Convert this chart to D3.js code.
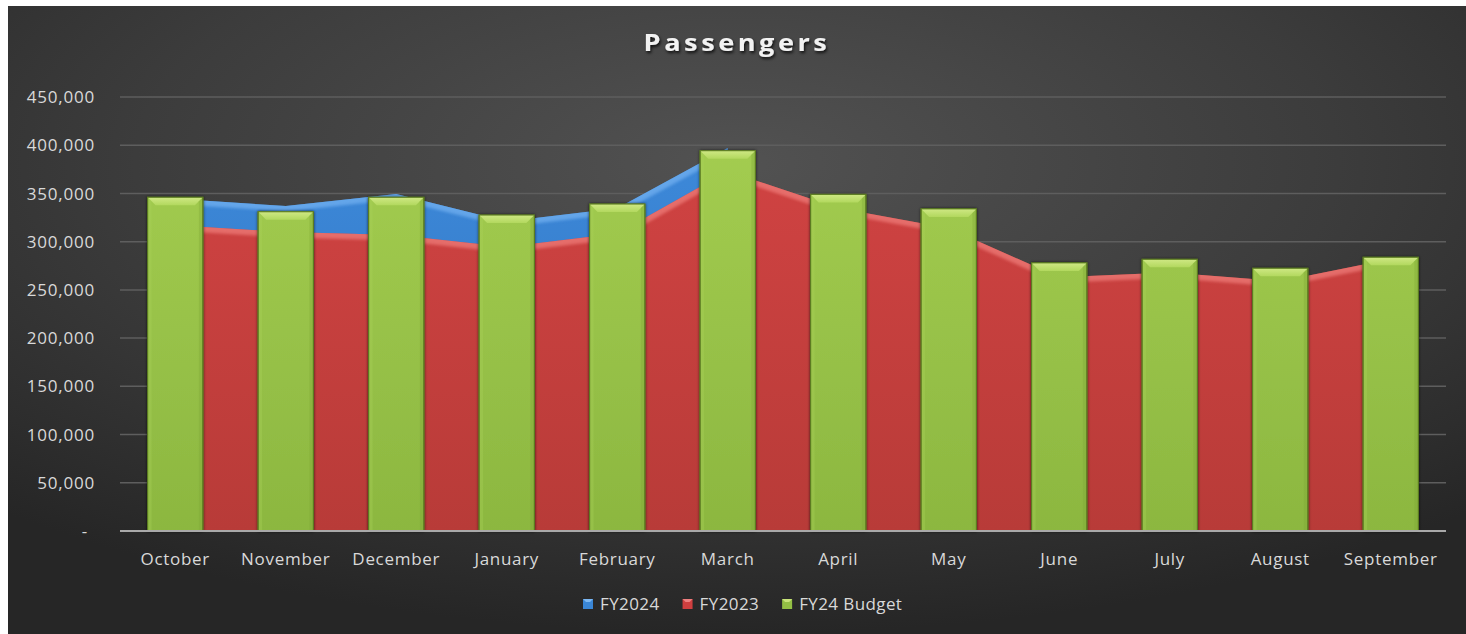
<!DOCTYPE html>
<html>
<head>
<meta charset="utf-8">
<script src="https://cdn.jsdelivr.net/npm/d3@7/dist/d3.min.js"></script>
<style>
  html, body { margin: 0; padding: 0; background: #ffffff; }
  svg { display: block; }
  text { font-family: "Open Sans", "DejaVu Sans", sans-serif; }
</style>
</head>
<body>
<svg id="chart" width="1466" height="634"></svg>
<script>
// Monthly passenger counts, fiscal year October–September
const months = ["October", "November", "December", "January", "February", "March",
                "April", "May", "June", "July", "August", "September"];
const fy2024 = [344500, 337000, 349500, 321000, 334600, 397000];
const fy2023 = [317000, 310000, 307000, 294500, 308500, 373000,
                335000, 314000, 263000, 268000, 259000, 282000];
const budget = [346000, 331000, 346000, 327600, 339000, 394300,
                349000, 334000, 278000, 281700, 272400, 283800];
const yTicks = [0, 50000, 100000, 150000, 200000, 250000, 300000, 350000, 400000, 450000];
const yTickLabels = ["-", "50,000", "100,000", "150,000", "200,000", "250,000",
                     "300,000", "350,000", "400,000", "450,000"];
const seriesNames = ["FY2024", "FY2023", "FY24 Budget"];
const chartTitle = "Passengers";

const W = 1466, H = 634;
const panel = { x: 8, y: 6, w: W - 8, h: H - 6 };
const plot = { left: 120, right: 1446, top: 97, bottom: 531 };

const svg = d3.select("#chart");
const defs = svg.append("defs");

// Background: dark radial gradient, lighter near the top centre
const bg = defs.append("radialGradient").attr("id", "bgGrad")
  .attr("cx", "50%").attr("cy", "25%").attr("r", "75%");
bg.append("stop").attr("offset", "0%").attr("stop-color", "#525252");
bg.append("stop").attr("offset", "55%").attr("stop-color", "#3c3c3c");
bg.append("stop").attr("offset", "100%").attr("stop-color", "#262626");

function vGrad(id, top, bottom) {
  const g = defs.append("linearGradient").attr("id", id)
    .attr("gradientUnits", "userSpaceOnUse")
    .attr("x1", 0).attr("x2", 0).attr("y1", plot.top).attr("y2", plot.bottom);
  g.append("stop").attr("offset", "0%").attr("stop-color", top);
  g.append("stop").attr("offset", "100%").attr("stop-color", bottom);
}
vGrad("greenGrad", "#a6cf52", "#8cb740");
vGrad("redGrad", "#d44444", "#b83b38");
vGrad("blueGrad", "#3f8ddf", "#2f6fb8");

// Bevel highlight on the column tops: fades from light to the body colour
const bevelGrad = defs.append("linearGradient").attr("id", "bevelGrad")
  .attr("x1", 0).attr("x2", 0).attr("y1", 0).attr("y2", 1);
bevelGrad.append("stop").attr("offset", "0%").attr("stop-color", "#cfe884");
bevelGrad.append("stop").attr("offset", "100%").attr("stop-color", "#b2d85e");

const soft = defs.append("filter").attr("id", "soft")
  .attr("x", "-20%").attr("y", "-20%").attr("width", "140%").attr("height", "140%");
soft.append("feGaussianBlur").attr("stdDeviation", 1.6);

const barShadow = defs.append("filter").attr("id", "barShadow")
  .attr("x", "-20%").attr("y", "-5%").attr("width", "140%").attr("height", "110%");
barShadow.append("feDropShadow").attr("dx", 0).attr("dy", 0)
  .attr("stdDeviation", 1.6).attr("flood-color", "#000").attr("flood-opacity", 0.7);

const titleShadow = defs.append("filter").attr("id", "titleShadow")
  .attr("x", "-10%").attr("y", "-30%").attr("width", "120%").attr("height", "160%");
titleShadow.append("feDropShadow").attr("dx", 1).attr("dy", 2)
  .attr("stdDeviation", 1.5).attr("flood-color", "#000").attr("flood-opacity", 0.8);

svg.append("rect")
  .attr("x", panel.x).attr("y", panel.y).attr("width", panel.w).attr("height", panel.h)
  .attr("fill", "url(#bgGrad)");

// Scales
const x = d3.scaleBand().domain(months).range([plot.left, plot.right])
  .paddingInner(0.5).paddingOuter(0.25);
const y = d3.scaleLinear().domain([0, 450000]).range([plot.bottom, plot.top]);
const cx = m => x(m) + x.bandwidth() / 2;

// Gridlines
svg.append("g").selectAll("line").data(yTicks.filter(d => d > 0)).join("line")
  .attr("x1", plot.left).attr("x2", plot.right)
  .attr("y1", d => y(d)).attr("y2", d => y(d))
  .attr("stroke", "#5e5e5e").attr("stroke-width", 1.5);

// Areas with a soft highlight along the top edge
function drawArea(values, fill, highlight, id) {
  const pts = values.map((v, i) => [cx(months[i]), y(v)]);
  const area = d3.area().x(d => d[0]).y0(y(0)).y1(d => d[1]);
  const line = d3.line().x(d => d[0]).y(d => d[1]);
  defs.append("clipPath").attr("id", id).append("path").attr("d", area(pts));
  const g = svg.append("g");
  g.append("path").attr("d", area(pts)).attr("fill", fill);
  g.append("path").attr("d", line(pts)).attr("clip-path", `url(#${id})`)
    .attr("fill", "none").attr("stroke", highlight).attr("stroke-width", 11)
    .attr("stroke-linejoin", "round")
    .attr("filter", "url(#soft)").attr("opacity", 0.75);
}
drawArea(fy2024, "url(#blueGrad)", "#72b0f0", "clipBlue");
drawArea(fy2023, "url(#redGrad)", "#ee7b78", "clipRed");

// Budget columns with bevelled top
const bw = x.bandwidth();
const bev = 8;
const bars = svg.append("g").selectAll("g").data(budget).join("g");
bars.append("rect")
  .attr("x", (d, i) => x(months[i])).attr("y", d => y(d))
  .attr("width", bw).attr("height", d => y(0) - y(d))
  .attr("fill", "url(#greenGrad)").attr("stroke", "#5d7d22").attr("stroke-width", 1)
  .attr("filter", "url(#barShadow)");
bars.append("path")
  .attr("d", (d, i) => {
    const x0 = x(months[i]), y0 = y(d);
    return `M${x0},${y0}L${x0 + bw},${y0}L${x0 + bw - bev},${y0 + bev}L${x0 + bev},${y0 + bev}Z`;
  })
  .attr("fill", "url(#bevelGrad)");
bars.append("path")
  .attr("d", (d, i) => {
    const x0 = x(months[i]), y0 = y(d);
    return `M${x0},${y0}L${x0 + 4},${y0 + 4}L${x0 + 4},${y(0)}L${x0},${y(0)}Z`;
  })
  .attr("fill", "#a8d15a").attr("opacity", 0.35);
bars.append("path")
  .attr("d", (d, i) => {
    const x1 = x(months[i]) + bw, y0 = y(d);
    return `M${x1},${y0}L${x1 - 4},${y0 + 4}L${x1 - 4},${y(0)}L${x1},${y(0)}Z`;
  })
  .attr("fill", "#7fa736").attr("opacity", 0.35);
bars.append("rect")
  .attr("x", (d, i) => x(months[i])).attr("y", d => y(d))
  .attr("width", bw).attr("height", d => y(0) - y(d))
  .attr("fill", "none").attr("stroke", "#5a7a20").attr("stroke-width", 1);

// Category axis line
svg.append("line")
  .attr("x1", plot.left).attr("x2", plot.right)
  .attr("y1", y(0)).attr("y2", y(0))
  .attr("stroke", "#a9a9a9").attr("stroke-width", 2);

// Value axis labels
svg.append("g").selectAll("text").data(yTicks).join("text")
  .attr("x", (d, i) => i === 0 ? 88 : 95)
  .attr("y", d => y(d)).attr("dy", "0.36em")
  .attr("text-anchor", "end").attr("font-size", 17).attr("letter-spacing", 0.8)
  .attr("fill", "#d9d9d9")
  .text((d, i) => yTickLabels[i]);

// Category labels
svg.append("g").selectAll("text").data(months).join("text")
  .attr("x", d => cx(d)).attr("y", 565)
  .attr("text-anchor", "middle").attr("font-size", 17).attr("letter-spacing", 0.7)
  .attr("fill", "#d9d9d9")
  .text(d => d);

// Title, slightly widened
const titleX = (panel.x + W) / 2;
svg.append("text")
  .attr("transform", `translate(${titleX},51) scale(1.18,1)`)
  .attr("text-anchor", "middle").attr("font-size", 23).attr("font-weight", 700)
  .attr("letter-spacing", 3).attr("fill", "#f2f2f2")
  .attr("filter", "url(#titleShadow)")
  .text(chartTitle);

// Legend
const legendColors = [["#3a86d6", "#7db8f2"], ["#cf3f3f", "#ee8080"], ["#93bf44", "#c8e37a"]];
const legend = svg.append("g");
let lx = 583;
seriesNames.forEach((name, i) => {
  const g = legend.append("g").attr("transform", `translate(${lx},0)`);
  g.append("rect").attr("x", 0).attr("y", 599).attr("width", 10).attr("height", 10)
    .attr("fill", legendColors[i][0]);
  g.append("path").attr("d", "M0,599L10,599L7,602L3,602Z").attr("fill", legendColors[i][1]);
  const t = g.append("text").attr("x", 17).attr("y", 610)
    .attr("font-size", 17).attr("letter-spacing", 0.4).attr("fill", "#d9d9d9").text(name);
  lx += 17 + t.node().getComputedTextLength() + 23;
});
</script>
</body>
</html>
